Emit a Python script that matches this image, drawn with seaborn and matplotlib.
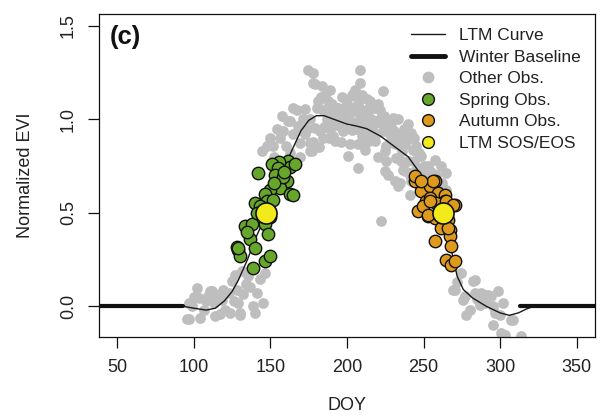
import numpy as np
import matplotlib
matplotlib.use("Agg")
import matplotlib.pyplot as plt
from matplotlib.lines import Line2D
import seaborn as sns

# ---- data ----
# long-term-mean phenology curve
ltm_doy = [93, 100, 108, 114, 120, 125, 129, 135, 140, 145, 150, 155, 161, 166, 170,
           175, 180, 185, 190, 195, 200, 206, 213, 222, 231, 240, 247, 252, 257, 262,
           266, 269, 272, 276, 282, 291, 300, 306, 312, 317, 322]
ltm_evi = [0.0, -0.01, -0.02, -0.01, 0.03, 0.08, 0.14, 0.25, 0.36, 0.45, 0.55, 0.65, 0.78, 0.87, 0.94,
           0.995, 1.02, 1.02, 1.005, 0.99, 0.975, 0.965, 0.95, 0.91, 0.855, 0.80, 0.72, 0.65, 0.58, 0.49,
           0.38, 0.27, 0.16, 0.09, 0.045, 0.0, -0.035, -0.048, -0.035, -0.015, 0.0]

# winter baseline (two pieces, before green-up and after dormancy)
winter_doy_early = [1, 93]
winter_doy_late = [313, 365]
winter_evi = [0.0, 0.0]

# all other observations (grey)
grey_doy = [
    # green-up foot
    96.5, 96.5, 102, 103, 106.3, 109.5, 111.7, 112.8, 113.9, 118.2, 120.4, 122.6, 123.7, 124.7,
    128, 129, 130.2, 131.3, 132.3, 135.6, 136.7, 138.9, 141, 143.2, 145.4, 146.5, 95.4, 99,
    104, 108, 115, 117, 126, 110.6, 140, 130, 100, 119, 134, 127,
    # summer plateau
    144.3, 149.7, 151.9, 156.3, 157.4, 161.7, 162.8, 165, 167.1, 168.2, 169.3, 169.3, 170.4,
    172.6, 172.6, 174.7, 175.8, 175.8, 176.9, 178, 178, 179, 179.1, 180.2, 182.3, 183.4, 184.5,
    185.6, 186.7, 187.8, 191, 192.1, 192.1, 193.2, 194.3, 195.4, 197.5, 198.6, 198.6, 200.8,
    203, 203, 204.1, 205.2, 207.3, 207.3, 208.4, 208.4, 208.4, 209.5, 209.5, 209.5, 211.7,
    211.7, 212.8, 213.8, 214.9, 218.2, 218.2, 219.3, 221.4, 221.4, 222.5, 223.6, 223.6, 224.7,
    224.7, 225.8, 225.8, 226.9, 229, 230.1, 231.2, 231.2, 232.3, 233.4, 233.4, 233.4, 234.5,
    235.6, 235.6, 236.7, 237.8, 239.9, 241, 241, 242.1, 241, 243.2, 244, 248.6, 257.3, 261.6,
    264.9, 253, 246, 250, 188, 196, 201, 206, 216, 186, 190, 200, 215, 228, 238, 245, 189, 213,
    220, 227, 171, 165, 160, 154,
    181, 184, 187, 190, 193, 196, 199, 202, 205, 207, 210, 212, 214, 217, 219, 222, 224, 226,
    228, 230, 232, 234, 237, 239, 242, 244, 247, 236, 240, 243, 176, 174, 178, 182, 185, 188,
    196, 202, 183, 197, 215, 220, 205, 189, 163, 158, 152, 148,
    250, 255, 258, 262, 265,
    # senescence tail
    269.2, 282.3, 283.4, 275.8, 286.6, 278, 289.9, 298.6, 295.3, 299.7, 308.4, 295.3, 300.8,
    313.8, 292.1, 301.9, 274.7, 283.4, 270.3, 276.9, 287.7, 294.2, 303, 280.1, 296.4, 307.3,
    272, 290, 285,
]
grey_evi = [
    0.02, -0.07, 0.10, 0.045, -0.02, 0.055, 0.08, 0.02, -0.05, 0.035, -0.02, 0.07, -0.035, 0.135,
    0.09, 0.02, -0.035, 0.19, 0.065, 0.16, 0.105, 0.0, 0.07, 0.145, 0.02, 0.18, -0.07, 0.0,
    -0.06, 0.03, 0.06, -0.04, 0.03, 0.08, -0.035, -0.045, 0.05, 0.09, 0.12, 0.17,
    0.83, 0.90, 0.857, 0.90, 1.017, 0.99, 0.99, 0.92, 1.053, 0.964, 0.875, 0.80, 0.937,
    1.057, 0.92, 1.267, 0.875, 0.83, 0.83, 1.249, 1.196, 1.187, 0.955, 1.062, 0.937, 1.181, 0.901,
    1.133, 0.973, 1.098, 0.91, 0.99, 0.884, 1.062, 1.062, 1.008, 0.937, 1.067, 1.017, 0.803,
    0.946, 1.133, 1.133, 1.044, 0.866, 0.741, 1.264, 1.196, 1.008, 1.133, 0.91, 0.99, 1.035,
    0.839, 1.110, 0.991, 0.928, 0.883, 1.062, 1.062, 1.053, 1.0, 0.455, 1.151, 0.937, 0.83,
    0.723, 0.857, 0.776, 0.991, 0.982, 0.946, 0.866, 0.669, 0.794, 1.0, 0.866, 0.643, 0.66,
    0.928, 0.776, 0.732, 0.723, 0.973, 0.901, 0.705, 0.669, 0.598, 0.839, 0.78, 0.803, 0.785, 0.75,
    0.714, 0.75, 0.74, 0.70, 1.03, 0.96, 1.0, 0.95, 1.0, 1.04, 1.08, 1.09, 1.07, 0.92, 0.87, 0.86, 0.95, 0.88,
    0.80, 0.70, 1.0, 1.06, 0.86, 0.95,
    1.10, 1.05, 1.00, 1.03, 0.97, 1.04, 0.95, 1.06, 0.98, 1.09, 1.05, 0.96, 1.04, 0.97, 0.92, 0.98,
    1.02, 0.94, 0.88, 1.01, 0.93, 0.89, 0.95, 0.91, 0.93, 0.90, 0.82, 0.83, 0.78, 0.72, 1.00, 0.95,
    0.88, 0.85, 0.96, 0.90, 0.88, 0.87, 1.12, 1.12, 1.10, 1.08, 1.16, 1.16, 0.82, 0.94, 0.80, 0.86,
    0.75, 0.72, 0.70, 0.66, 0.62,
    0.089, 0.134, 0.072, 0.036, 0.009, -0.044, 0.063, 0.08, 0.0, -0.044, -0.071, -0.098, -0.143,
    -0.16, 0.063, 0.018, 0.179, 0.143, 0.09, 0.054, 0.072, 0.054, -0.152, -0.018, -0.035, -0.071,
    0.13, 0.02, 0.04,
]

# spring (green-up) observations
spring_doy = [161.7, 163, 166, 155.5, 151, 142, 155, 153, 160.6, 156.3, 149.7, 146.5, 163, 165,
              140, 147.6, 151.5, 143.2, 145, 150, 133.4, 137.8, 146.5, 148.6, 136.7, 140, 128, 129,
              130.2, 138.9, 146.5, 149.7, 135, 141, 158, 152, 129, 159]
spring_evi = [0.78, 0.745, 0.76, 0.77, 0.76, 0.715, 0.74, 0.70, 0.67, 0.635, 0.62, 0.60, 0.60, 0.595,
              0.555, 0.565, 0.57, 0.535, 0.51, 0.48, 0.43, 0.44, 0.44, 0.385, 0.36, 0.31, 0.32, 0.30,
              0.27, 0.205, 0.24, 0.27, 0.40, 0.50, 0.69, 0.66, 0.31, 0.72]

# autumn (senescence) observations
autumn_doy = [247.5, 257.3, 248.6, 254, 259.5, 263.8, 251.9, 246.4, 253, 257.3, 263.8, 270.3,
              266, 261.6, 267.1, 267.1, 257.3, 268.2, 264.9, 268.2, 270.3, 254, 249.7, 258.4,
              244.3, 244.3, 256.2, 248.6, 254, 253, 264.9, 269.3, 266]
autumn_evi = [0.669, 0.669, 0.616, 0.643, 0.607, 0.598, 0.562, 0.509, 0.482, 0.473, 0.562, 0.544,
              0.464, 0.419, 0.41, 0.375, 0.348, 0.321, 0.25, 0.223, 0.241, 0.58, 0.535, 0.553,
              0.669, 0.696, 0.669, 0.669, 0.562, 0.491, 0.562, 0.544, 0.419]

# long-term-mean start / end of season
sos_eos_doy = [147, 262.5]
sos_eos_evi = [0.50, 0.50]

GREY = "#BEBEBE"
GREEN = "#66A62A"
ORANGE = "#DD9A1C"
YELLOW = "#F2EA1A"
INK = "#111111"

sns.set_theme(style="ticks")
plt.rcParams["font.family"] = ["Liberation Sans", "DejaVu Sans"]

fig = plt.figure(figsize=(6.03, 4.18), dpi=100)
ax = fig.add_axes([0.1642, 0.1938, 0.8225, 0.7727])

sns.scatterplot(x=grey_doy, y=grey_evi, color=GREY, s=60, linewidth=0, ax=ax, zorder=1)
sns.lineplot(x=ltm_doy, y=ltm_evi, sort=False, estimator=None, color="#1a1a1a", lw=1.0,
             ax=ax, zorder=2)
for wd in (winter_doy_early, winter_doy_late):
    sns.lineplot(x=wd, y=winter_evi, sort=False, estimator=None, color=INK, lw=3.0,
                 ax=ax, zorder=2)
sns.scatterplot(x=spring_doy, y=spring_evi, color=GREEN, s=80, edgecolor=INK,
                linewidth=1.0, ax=ax, zorder=3)
sns.scatterplot(x=autumn_doy, y=autumn_evi, color=ORANGE, s=80, edgecolor=INK,
                linewidth=1.0, ax=ax, zorder=3)
sns.scatterplot(x=sos_eos_doy, y=sos_eos_evi, color=YELLOW, s=230, edgecolor=INK,
                linewidth=1.2, ax=ax, zorder=4)

ax.set_xlim(38, 362)
ax.set_ylim(-0.164, 1.564)
ax.set_xticks([50, 100, 150, 200, 250, 300, 350])
ax.set_yticks([0.0, 0.5, 1.0, 1.5])
ax.set_yticklabels(["0.0", "0.5", "1.0", "1.5"], rotation=90, va="center")
ax.tick_params(axis="both", length=8, width=0.9, color=INK, labelsize=13,
               labelcolor="#222222")
ax.tick_params(axis="x", pad=8)
ax.tick_params(axis="y", pad=8)
for sp in ax.spines.values():
    sp.set_color(INK)
    sp.set_linewidth(0.9)

ax.set_xlabel("DOY", fontsize=13, color="#222222")
ax.set_ylabel("Normalized EVI", fontsize=13, color="#222222", va="center")
ax.xaxis.set_label_coords(0.5, -0.186)
ax.yaxis.set_label_coords(-0.149, 0.5)

ax.text(0.022, 0.929, "(c)", transform=ax.transAxes, fontsize=18.5, fontweight="bold",
        va="center", ha="left", color=INK)

handles = [
    Line2D([], [], color="#1a1a1a", lw=1.0),
    Line2D([], [], color=INK, lw=3.5),
    Line2D([], [], marker="o", ls="none", markersize=8.5, markerfacecolor=GREY, markeredgewidth=0),
    Line2D([], [], marker="o", ls="none", markersize=8.5, markerfacecolor=GREEN, markeredgecolor=INK, markeredgewidth=1.0),
    Line2D([], [], marker="o", ls="none", markersize=8.5, markerfacecolor=ORANGE, markeredgecolor=INK, markeredgewidth=1.0),
    Line2D([], [], marker="o", ls="none", markersize=8.5, markerfacecolor=YELLOW, markeredgecolor=INK, markeredgewidth=1.0),
]
labels = ["LTM Curve", "Winter Baseline", "Other Obs.", "Spring Obs.", "Autumn Obs.", "LTM SOS/EOS"]
ax.legend(handles, labels, loc="upper right", bbox_to_anchor=(1.0, 1.0), frameon=False,
          fontsize=12.5, labelspacing=0.37, handlelength=2.0, handletextpad=0.8,
          borderpad=0.3, borderaxespad=0.5, labelcolor="#222222")

fig.savefig("out.png", dpi=100)
